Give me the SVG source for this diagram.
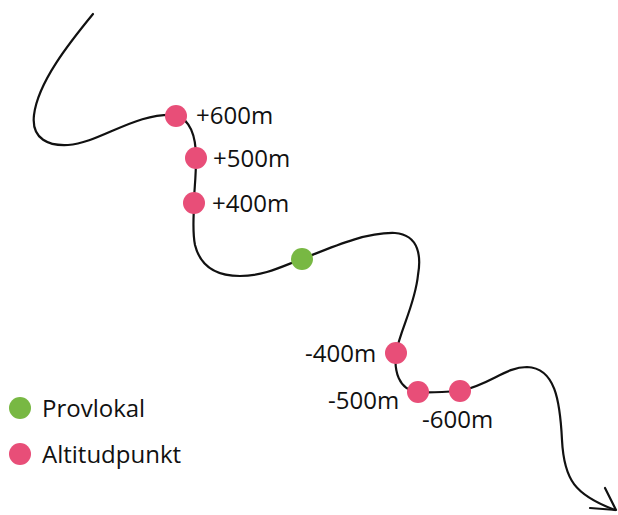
<svg xmlns="http://www.w3.org/2000/svg" width="618" height="515" viewBox="0 0 618 515">
  <style>
    .route { fill: none; stroke: #111; stroke-width: 2.2; stroke-linecap: round; stroke-linejoin: round; }
    .alt { fill: #e84e78; }
    .site { fill: #78b843; }
    .lbl { font-family: "Open Sans", "Noto Sans", sans-serif; font-size: 24px; fill: #111; }
  </style>
  <rect width="618" height="515" fill="#ffffff"/>
  <g id="connectors">
    <path class="route" d="M93,14 C70,42 38,82 34,115 C31,140 50,146 68,145 C100,143 135,112 176,115 C190,120 196,135 196,158 C196,180 194,190 194,203 C194,215 192,230 195,245 C200,265 215,276 240,276 C265,276 285,265 302,259 C330,248 365,232 395,233 C420,235 421,258 418,275 C415,305 400,330 396,353 C394,370 398,390 418,392 C430,393 445,392 460,391 C490,385 505,367 527,367 C555,368 560,400 562,440 C564,480 575,495 615,510"/>
    <path class="route" d="M605,488 L616,510 L590,508"/>
  </g>
  <g id="p600"><circle class="alt" cx="176" cy="116" r="11"/><text class="lbl" x="196" y="124">+600m</text></g>
  <g id="p500"><circle class="alt" cx="196" cy="158" r="11"/><text class="lbl" x="213" y="167">+500m</text></g>
  <g id="p400"><circle class="alt" cx="194" cy="203" r="11"/><text class="lbl" x="212" y="212">+400m</text></g>
  <g id="site"><circle class="site" cx="302" cy="259" r="11"/></g>
  <g id="m400"><circle class="alt" cx="396" cy="353" r="11"/><text class="lbl" x="305" y="362">-400m</text></g>
  <g id="m500"><circle class="alt" cx="418" cy="392" r="11"/><text class="lbl" x="328" y="409">-500m</text></g>
  <g id="m600"><circle class="alt" cx="460" cy="391" r="11"/><text class="lbl" x="422" y="428">-600m</text></g>
  <g id="legend">
    <circle class="site" cx="20" cy="408" r="11"/><text class="lbl" x="42" y="417">Provlokal</text>
    <circle class="alt" cx="20" cy="454" r="11"/><text class="lbl" x="42" y="463">Altitudpunkt</text>
  </g>
</svg>
